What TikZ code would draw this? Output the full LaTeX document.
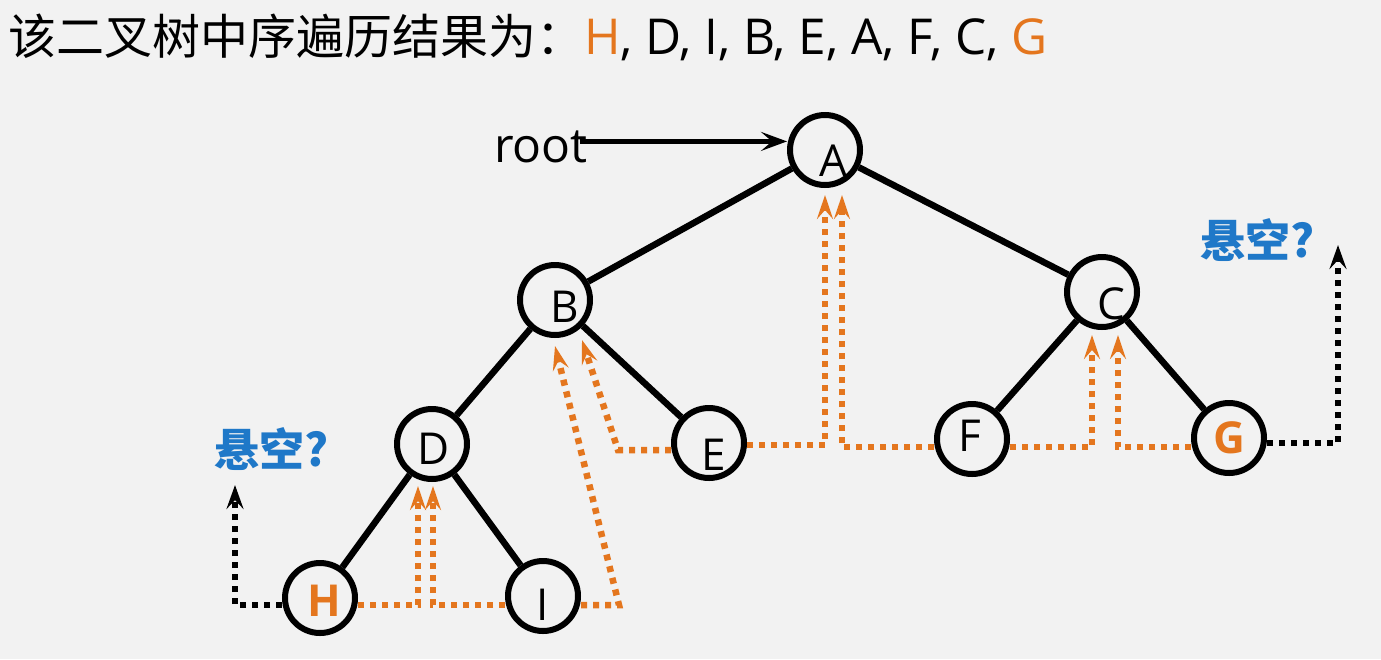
\documentclass[tikz,border=0pt]{standalone}
\usepackage{fontspec}
\setmainfont{Open Sans}
\newfontfamily\cjk{Noto Sans CJK SC}
\usetikzlibrary{arrows.meta}
\definecolor{bgc}{HTML}{F2F2F2}
\definecolor{org}{HTML}{E4761E}
\definecolor{blu}{HTML}{1F78C8}
\tikzset{
  tn/.style={circle,draw=black,line width=6pt,minimum size=70pt,inner sep=0pt},
  nlab/.style={font=\fontsize{44}{44}\selectfont},
  olab/.style={font=\fontsize{44}{44}\selectfont\bfseries,text=org},
  edge/.style={line width=6.5pt,black},
  odot/.style={line width=6.5pt,org,dash pattern=on 6pt off 6pt,-{Stealth[length=24pt,width=16pt,inset=9pt]}},
  kdot/.style={line width=6.5pt,black,dash pattern=on 6pt off 6pt,-{Stealth[length=24pt,width=17pt,inset=9pt]}},
  qtext/.style={font=\cjk\fontsize{45}{45}\selectfont\bfseries,text=blu,inner sep=0pt}
}
\begin{document}
\begin{tikzpicture}[x=1pt,y=-1pt]
\fill[bgc] (0,0) rectangle (1381,659);
\useasboundingbox (0,0) rectangle (1381,659);
% title
\node[anchor=base west,inner sep=0pt] (title) at (8,54)
  {\cjk\fontsize{48}{48}\selectfont 该二叉树中序遍历结果为：\fontspec{Open Sans}\fontsize{49.5}{49.5}\selectfont\textcolor{org}{H}, D, I, B, E, A, F, C, \textcolor{org}{G}};
% nodes
\node[tn,label={[nlab,xshift=8pt,yshift=-11pt]center:A}] (A) at (825,150) {};
\node[tn,label={[nlab,xshift=10pt,yshift=-7pt]center:B}] (B) at (555,300) {};
\node[tn,label={[nlab,xshift=9pt,yshift=-12pt]center:C}] (C) at (1102,292) {};
\node[tn,label={[nlab,xshift=2pt,yshift=-5pt]center:D}] (D) at (432,444) {};
\node[tn,label={[nlab,xshift=5pt,yshift=-12pt]center:E}] (E) at (709,443) {};
\node[tn,label={[nlab,xshift=-2pt,yshift=3pt]center:F}] (F) at (972,439) {};
\node[tn,label={[olab]center:G}] (G) at (1229,438) {};
\node[tn,label={[olab,xshift=4pt,yshift=-3pt]center:H}] (H) at (320,598) {};
\node[tn,label={[nlab,yshift=-9pt]center:I}] (I) at (543,596) {};
% root
\node[anchor=base west,inner sep=0pt,font=\fontsize{48}{48}\selectfont] (root) at (494,162) {root};
\draw[line width=5pt,-{Stealth[length=26pt,width=19pt,inset=11pt]}] ([xshift=-8pt,yshift=5pt]root.east) -- ([yshift=5pt]root.east -| A.west);
% edges
\draw[edge] (A) -- (B);
\draw[edge] (A) -- (C);
\draw[edge] (B) -- (D);
\draw[edge] (B) -- (E);
\draw[edge] (D) -- (H);
\draw[edge] (D) -- (I);
\draw[edge] (C) -- (F);
\draw[edge] (C) -- (G);
% null labels
\node[qtext] (qL) at (272,449) {悬空?};
\node[qtext] (qR) at (1258,240) {悬空?};
\coordinate (nullL) at (235,485);
\coordinate (nullR) at (1338,245);
% orange threads
\draw[odot] ([yshift=-7pt]H.east) -| ([xshift=-14pt,yshift=-4pt]D.south);
\draw[odot] ([yshift=-9pt]I.west) -| ([xshift=1pt,yshift=-4pt]D.south);
\draw[odot] ([yshift=-9pt]I.east) -- ++(38,0) -- ([yshift=-8pt]B.south);
\draw[odot] ([yshift=-7pt]E.west) -- ++(-53,0) -- ([shift={(27,40)}]B.center);
\draw[odot] ([yshift=-2pt]E.east) -| ([yshift=-7pt]A.south);
\draw[odot] ([yshift=-8pt]F.west) -| ([xshift=17pt,yshift=-7pt]A.south);
\draw[odot] ([yshift=-8pt]F.east) -| ([xshift=-10pt,yshift=-5pt]C.south);
\draw[odot] ([yshift=-9pt]G.west) -| ([xshift=16pt,yshift=-5pt]C.south);
% black threads
\draw[kdot] ([yshift=-7pt]H.west) -| (nullL);
\draw[kdot] ([yshift=-5pt]G.east) -| (nullR);
\end{tikzpicture}
\end{document}
